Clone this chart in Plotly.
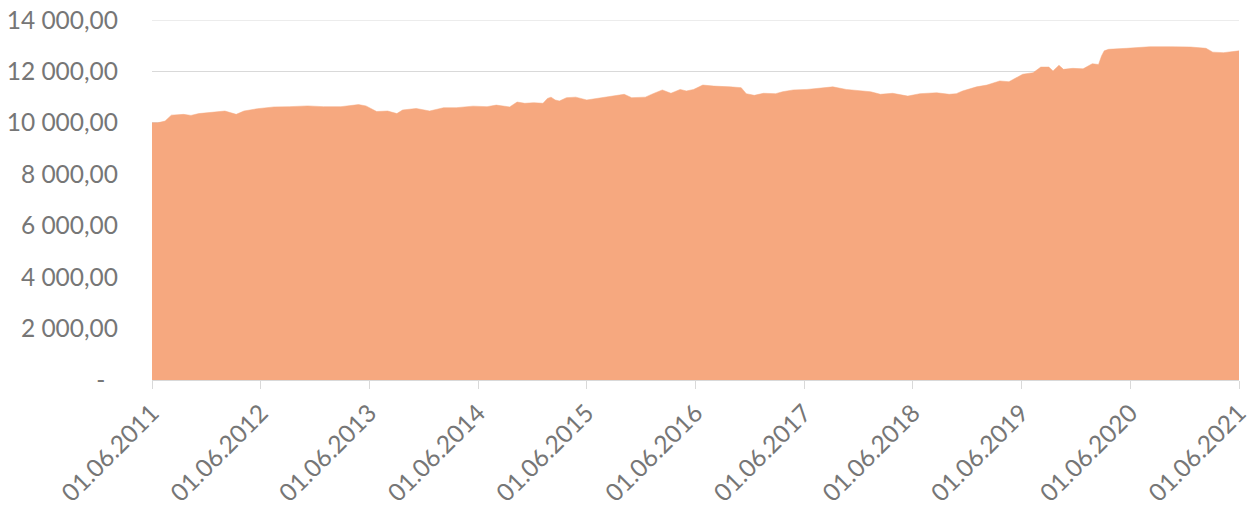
import plotly.graph_objects as go

dates = [
    "2011-06-01", "2011-06-20", "2011-07-15", "2011-08-05", "2011-09-15", "2011-10-10",
    "2011-11-05", "2011-12-25", "2012-02-01", "2012-03-10", "2012-04-05", "2012-05-20",
    "2012-07-15", "2012-09-05", "2012-11-05", "2012-12-28", "2013-02-25", "2013-04-25",
    "2013-05-20", "2013-06-25", "2013-08-01", "2013-09-01", "2013-09-20", "2013-11-05",
    "2013-12-20", "2014-02-05", "2014-03-20", "2014-05-15", "2014-07-01", "2014-08-01",
    "2014-09-15", "2014-10-10", "2014-11-05", "2014-12-05", "2015-01-05", "2015-01-20",
    "2015-02-01", "2015-02-15", "2015-03-01", "2015-03-25", "2015-04-25", "2015-06-01",
    "2015-07-10", "2015-08-25", "2015-10-05", "2015-10-30", "2015-12-15", "2016-01-10",
    "2016-02-10", "2016-03-10", "2016-04-10", "2016-05-01", "2016-05-25", "2016-06-25",
    "2016-08-01", "2016-09-25", "2016-11-01", "2016-11-18", "2016-12-15", "2017-01-15",
    "2017-02-25", "2017-03-20", "2017-04-25", "2017-06-10", "2017-07-20", "2017-09-05",
    "2017-10-20", "2017-12-05", "2018-01-10", "2018-02-12", "2018-03-25", "2018-05-15",
    "2018-06-25", "2018-08-20", "2018-10-01", "2018-10-25", "2018-11-15", "2019-01-01",
    "2019-02-05", "2019-03-20", "2019-04-20", "2019-06-05", "2019-07-10", "2019-08-05",
    "2019-09-01", "2019-09-15", "2019-10-05", "2019-10-20", "2019-11-20", "2019-12-25",
    "2020-01-25", "2020-02-15", "2020-02-25", "2020-03-05", "2020-03-20", "2020-05-20",
    "2020-08-05", "2020-10-15", "2020-12-20", "2021-02-10", "2021-03-05", "2021-04-10",
    "2021-06-01",
]

values = [
    10000, 10000, 10070, 10300, 10330, 10290,
    10360, 10420, 10460, 10330, 10460, 10550,
    10620, 10630, 10660, 10630, 10630, 10710,
    10660, 10440, 10460, 10360, 10500, 10560,
    10460, 10590, 10590, 10650, 10630, 10690,
    10620, 10810, 10760, 10785, 10760, 10950,
    11000, 10890, 10850, 10980, 11000, 10890,
    10950, 11020, 11110, 10980, 11000, 11135,
    11280, 11150, 11300, 11240, 11300, 11470,
    11430, 11400, 11370, 11135, 11070, 11150,
    11135, 11210, 11280, 11300, 11340, 11400,
    11300, 11265, 11210, 11110, 11150, 11040,
    11135, 11170, 11110, 11135, 11240, 11400,
    11470, 11630, 11600, 11890, 11950, 12170,
    12170, 12020, 12240, 12080, 12120, 12100,
    12300, 12270, 12600, 12800, 12860, 12900,
    12960, 12960, 12950, 12900, 12750, 12730,
    12800,
]

x_tick_vals = ["2011-06-01", "2012-06-01", "2013-06-01", "2014-06-01", "2015-06-01",
               "2016-06-01", "2017-06-01", "2018-06-01", "2019-06-01", "2020-06-01",
               "2021-06-01"]
x_tick_text = ["01.06.2011", "01.06.2012", "01.06.2013", "01.06.2014", "01.06.2015",
               "01.06.2016", "01.06.2017", "01.06.2018", "01.06.2019", "01.06.2020",
               "01.06.2021"]
y_tick_vals = [0, 2000, 4000, 6000, 8000, 10000, 12000, 14000]
y_tick_text = ["-\u00a0\u00a0", "2 000,00", "4 000,00", "6 000,00", "8 000,00",
               "10 000,00", "12 000,00", "14 000,00"]
y_max = 14000

fill = "rgb(246,168,127)"
grid = "#d9d9d9"
txt = "#767676"

fig = go.Figure(go.Scatter(
    x=dates, y=values, mode="lines", fill="tozeroy",
    fillcolor=fill, line=dict(color=fill, width=0.5),
    hoverinfo="x+y", showlegend=False,
))

fig.update_layout(
    width=1251, height=506,
    margin=dict(l=152, r=12, t=20, b=126, autoexpand=False),
    paper_bgcolor="white", plot_bgcolor="white",
    font=dict(family="Lato, Carlito, sans-serif", size=24.5, color=txt),
    xaxis=dict(
        type="date",
        range=["2011-06-01", "2021-06-01"],
        tickmode="array", tickvals=x_tick_vals, ticktext=x_tick_text,
        tickangle=-45, showgrid=False,
        showline=True, linecolor=grid, linewidth=1,
        ticks="outside", ticklen=8, tickcolor=grid, tickwidth=1,
        zeroline=False, automargin=False, ticklabeloverflow="allow",
    ),
    yaxis=dict(
        range=[0, y_max],
        tickmode="array", tickvals=y_tick_vals, ticktext=y_tick_text,
        showgrid=True, gridcolor=grid, gridwidth=1,
        zeroline=False, showline=False,
        ticklabelstandoff=33, automargin=False, ticklabeloverflow="allow",
    ),
    shapes=[dict(type="line", xref="paper", x0=0, x1=1, yref="y", y0=y_max, y1=y_max,
                 line=dict(color=grid, width=1), layer="below")],
)

fig.write_html("out.html",
               config={"displayModeBar": False},
               post_script="document.body.style.margin='0px';document.body.style.overflow='hidden';")
